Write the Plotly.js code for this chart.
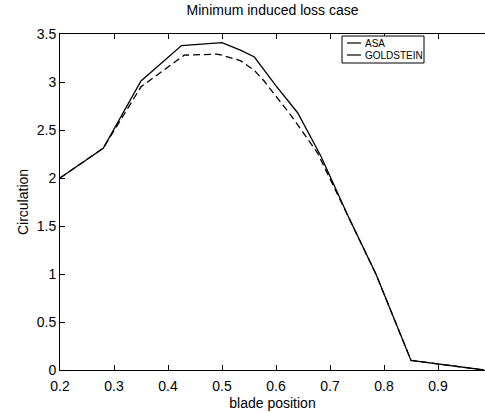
<!DOCTYPE html>
<html>
<head>
<meta charset="utf-8">
<script src="https://cdn.plot.ly/plotly-3.0.1.min.js"></script>
<style>html,body{margin:0;padding:0;background:#fff;}#chart{width:485px;height:413px;}</style>
</head>
<body>
<div id="chart"></div>
<script>
const seriesNames = ['ASA', 'GOLDSTEIN'];
const asaX = [0.2, 0.28, 0.35, 0.425, 0.5, 0.535, 0.56, 0.6, 0.64, 0.683, 0.733, 0.785, 0.85, 0.985];
const asaY = [2.0, 2.31, 3.01, 3.38, 3.41, 3.33, 3.26, 2.96, 2.68, 2.23, 1.61, 1.0, 0.1, 0.0];
const golX = [0.2, 0.28, 0.35, 0.43, 0.49, 0.5, 0.535, 0.56, 0.578, 0.628, 0.677, 0.733, 0.785, 0.85, 0.985];
const golY = [2.0, 2.31, 2.95, 3.28, 3.29, 3.28, 3.22, 3.12, 3.01, 2.65, 2.26, 1.60, 1.0, 0.1, 0.0];
const xTicks = [0.2, 0.3, 0.4, 0.5, 0.6, 0.7, 0.8, 0.9];
const xTickText = ['0.2', '0.3', '0.4', '0.5', '0.6', '0.7', '0.8', '0.9'];
const yTicks = [0, 0.5, 1, 1.5, 2, 2.5, 3, 3.5];
const yTickText = ['0', '0.5', '1', '1.5', '2', '2.5', '3', '3.5'];

const font = 'Liberation Sans, Arial, sans-serif';
const styles = [{color: '#000', width: 1.3}, {color: '#000', width: 1.3, dash: '7px,4px'}];
const data = [
  {x: asaX, y: asaY, mode: 'lines', name: seriesNames[0], line: styles[0], showlegend: false},
  {x: golX, y: golY, mode: 'lines', name: seriesNames[1], line: styles[1], showlegend: false}
];

// plot area in pixels: l=60, r=0, t=34, b=43 -> width 425, height 336
const px = v => (v - 60) / 425;
const py = v => 1 - (v - 34) / 336;
const legRows = [43, 55];
const legShapes = [
  {type: 'rect', xref: 'paper', yref: 'paper', x0: px(342), x1: px(424), y0: py(36), y1: py(63),
   line: {color: '#000', width: 1}, fillcolor: '#fff', layer: 'above'}
].concat(legRows.map(r => ({type: 'line', xref: 'paper', yref: 'paper', x0: px(347), x1: px(361), y0: py(r), y1: py(r),
   line: {color: '#000', width: 1.2}, layer: 'above'})));
const legAnn = seriesNames.map((n, i) => ({
  text: n, xref: 'paper', yref: 'paper', x: px(364), y: py(legRows[i]),
  xanchor: 'left', yanchor: 'middle', showarrow: false, borderpad: 0,
  font: {family: font, size: 10, color: '#000'}
}));

const layout = {
  width: 485, height: 413,
  margin: {l: 60, r: 0, t: 34, b: 43},
  paper_bgcolor: '#fff', plot_bgcolor: '#fff',
  font: {family: font, size: 14, color: '#000'},
  title: {text: 'Minimum induced loss case', font: {family: font, size: 14, color: '#000'}, x: 0.562, xanchor: 'center', y: 0.975, yanchor: 'middle'},
  showlegend: false,
  shapes: legShapes,
  annotations: legAnn,
  xaxis: {range: [0.2, 0.987], tickvals: xTicks, ticktext: xTickText, ticks: 'inside', ticklen: 5, tickcolor: '#000',
          showline: true, linecolor: '#000', linewidth: 1, mirror: 'ticks', showgrid: false, zeroline: false,
          ticklabelstandoff: 3,
          tickfont: {family: font, size: 14, color: '#000'},
          title: {text: 'blade position', font: {family: font, size: 14, color: '#000'}, standoff: 5}},
  yaxis: {range: [0, 3.5], tickvals: yTicks, ticktext: yTickText, ticks: 'inside', ticklen: 5, tickcolor: '#000',
          showline: true, linecolor: '#000', linewidth: 1, mirror: false, showgrid: false, zeroline: false,
          tickfont: {family: font, size: 14, color: '#000'},
          title: {text: 'Circulation', font: {family: font, size: 14, color: '#000'}, standoff: 4}}
};
Plotly.newPlot('chart', data, layout, {displayModeBar: false, staticPlot: true});
</script>
</body>
</html>
